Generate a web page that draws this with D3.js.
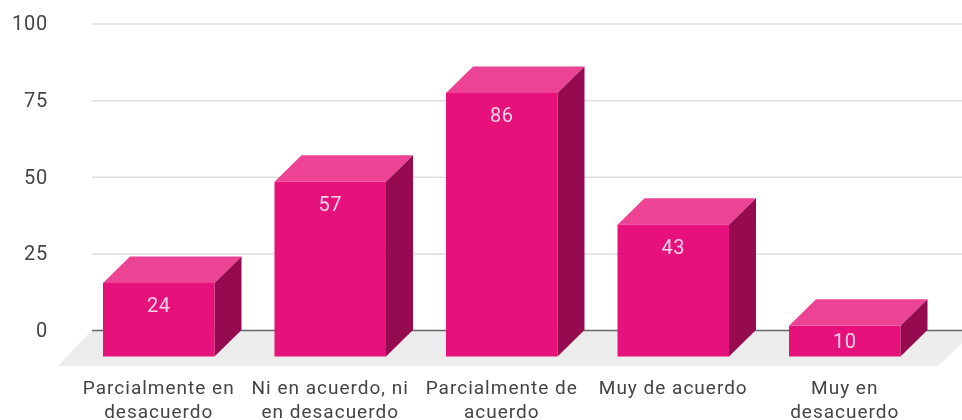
<!DOCTYPE html>
<html>
<head>
<meta charset="utf-8">
<script src="https://d3js.org/d3.v7.min.js"></script>
<style>
    body { margin: 0; background: #fff; }
    svg { display: block; filter: blur(0.6px); }
    text { font-family: Roboto, sans-serif; }
</style>
</head>
<body>
<div id="chart-area"></div>
<script>
var categories = ["Parcialmente en desacuerdo", "Ni en acuerdo, ni en desacuerdo",
    "Parcialmente de acuerdo", "Muy de acuerdo", "Muy en desacuerdo"];
var values = [24, 57, 86, 43, 10];
var yTicks = [0, 25, 50, 75, 100];

var width = 962;
var height = 420;
var depthX = 27;         // how far the front of a bar sits from the back plane
var depthY = 26.5;
var gridLeft = 92;

var svg = d3.select("#chart-area").append("svg")
    .attr("width", width)
    .attr("height", height);

// back plane scale, the front of the bars is the same shifted by depthY
var y = d3.scaleLinear()
    .domain([0, 100])
    .range([330, 23.5]);

var x = d3.scaleBand()
    .domain(categories)
    .range([73, 930.5])
    .paddingInner(0.35)
    .paddingOuter(0.175);

var baseY = y(0) + depthY;

// floor
svg.append("polygon")
    .attr("points", [
        [gridLeft, y(0)],
        [width + 14, y(0)],
        [938, baseY + 9.5],
        [58, baseY + 9.5]
    ].join(" "))
    .attr("fill", "#ececec");

// y axis and gridlines
var yAxisCall = d3.axisLeft(y)
    .tickValues(yTicks)
    .tickSize(-(width - gridLeft))
    .tickPadding(44);

var yAxisGroup = svg.append("g")
    .attr("transform", "translate(" + gridLeft + ",0)")
    .call(yAxisCall);

yAxisGroup.select(".domain").remove();
yAxisGroup.selectAll("line")
    .attr("stroke", (d) => d === 0 ? "#666" : "#ddd")
    .attr("stroke-width", 1.5);
yAxisGroup.selectAll("text")
    .attr("font-size", "20px")
    .attr("letter-spacing", "0.8px")
    .attr("fill", "#444");

// category axis, wrap() drops the axis dy so the translate is the first baseline
var xAxisCall = d3.axisBottom(x).tickSize(0).tickPadding(0);

var xAxisGroup = svg.append("g")
    .attr("transform", "translate(0,394)")
    .call(xAxisCall);

xAxisGroup.select(".domain").remove();
xAxisGroup.selectAll("text")
    .attr("font-size", "19px")
    .attr("fill", "#444")
    .attr("letter-spacing", "1px")
    .call(wrap, 165);

// bars
var bars = svg.selectAll(".bar").data(categories.map((c, i) => ({ name: c, value: values[i] })))
    .enter().append("g")
    .attr("class", "bar");

function barTop(d) { return y(d.value) + depthY; }

// top face
bars.append("polygon")
    .attr("points", (d) => {
        var x0 = x(d.name), x1 = x0 + x.bandwidth(), t = barTop(d);
        return [[x0, t], [x0 + depthX, t - depthY], [x1 + depthX, t - depthY], [x1, t]].join(" ");
    })
    .attr("fill", "#ec4394");

// side face
bars.append("polygon")
    .attr("points", (d) => {
        var x1 = x(d.name) + x.bandwidth(), t = barTop(d);
        return [[x1, t], [x1 + depthX, t - depthY], [x1 + depthX, baseY - depthY], [x1, baseY]].join(" ");
    })
    .attr("fill", "#960b50");

// front face
bars.append("rect")
    .attr("x", (d) => x(d.name))
    .attr("y", barTop)
    .attr("width", x.bandwidth())
    .attr("height", (d) => baseY - barTop(d))
    .attr("fill", "#e7117b");

bars.append("text")
    .attr("x", (d) => x(d.name) + x.bandwidth() / 2)
    .attr("y", (d) => barTop(d) + Math.min(22.5, (baseY - barTop(d)) / 2))
    .attr("dy", "0.35em")
    .attr("text-anchor", "middle")
    .attr("font-size", "20px")
    .attr("letter-spacing", "0.5px")
    .attr("fill", "#fbd3e6")
    .text((d) => d.value);

function wrap(text, maxWidth) {
    text.each(function() {
        var label = d3.select(this);
        var words = label.text().split(" ");
        var line = [];
        label.attr("dy", 0);
        var tspan = label.text(null).append("tspan").attr("x", 0).attr("dy", 0);
        words.forEach((word) => {
            line.push(word);
            tspan.text(line.join(" "));
            if (tspan.node().getComputedTextLength() > maxWidth && line.length > 1) {
                line.pop();
                tspan.text(line.join(" "));
                line = [word];
                tspan = label.append("tspan").attr("x", 0).attr("dy", "23.5px").text(word);
            }
        });
    });
}
</script>
</body>
</html>
